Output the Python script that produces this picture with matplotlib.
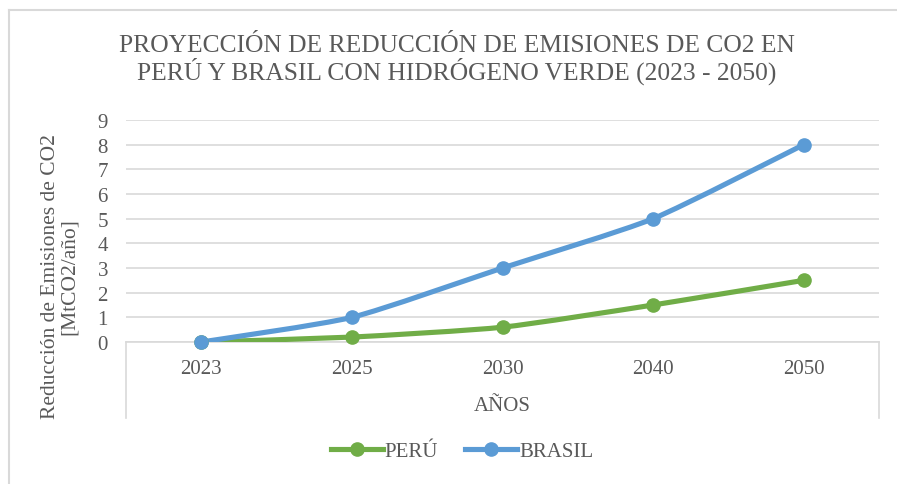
import numpy as np
import matplotlib.pyplot as plt
from matplotlib.path import Path
from matplotlib.patches import PathPatch
from matplotlib.lines import Line2D

years = ['2023', '2025', '2030', '2040', '2050']
peru = [0, 0.2, 0.6, 1.5, 2.5]
brasil = [0, 1, 3, 5, 8]

green = '#70AD47'
blue = '#5B9BD5'
txt = '#595959'
grid = '#D9D9D9'

plt.rcParams['font.family'] = ['Liberation Serif', 'DejaVu Serif']

fig = plt.figure(figsize=(8.97, 4.85), dpi=100)
ax = fig.add_axes([126 / 897, 1 - 343 / 485, (879 - 126) / 897, (343 - 121) / 485])


def smooth_path(xs, ys, k=10):
    # smoothed line like excel: cubic bezier segments through each point
    pts = np.column_stack([xs, ys]).astype(float)
    n = len(pts)
    verts = [pts[0]]
    codes = [Path.MOVETO]
    for i in range(n - 1):
        p0 = pts[i - 1] if i > 0 else pts[i]
        p1 = pts[i]
        p2 = pts[i + 1]
        p3 = pts[i + 2] if i + 2 < n else pts[i + 1]
        c1 = p1 + (p2 - p0) / k
        c2 = p2 - (p3 - p1) / k
        verts += [c1, c2, p2]
        codes += [Path.CURVE4] * 3
    return Path(verts, codes)


x = np.arange(len(years))
for vals, col in [(peru, green), (brasil, blue)]:
    ax.add_patch(PathPatch(smooth_path(x, vals), fill=False, edgecolor=col,
                           lw=3.7, capstyle='round', joinstyle='round', zorder=3))
    ax.plot(x, vals, 'o', color=col, ms=9.5, zorder=4, clip_on=False)

ax.set_xlim(-0.5, len(years) - 0.5)
ax.set_ylim(0, 9)
ax.set_yticks(range(10))
ax.set_xticks(x)
ax.set_xticklabels(years)
ax.tick_params(length=0, labelsize=15, labelcolor=txt)
ax.tick_params(axis='y', pad=13)
ax.tick_params(axis='x', pad=12)
ax.grid(axis='y', color=grid, lw=1.2)
ax.set_axisbelow(True)
for s in ['top', 'right', 'left']:
    ax.spines[s].set_visible(False)
ax.spines['bottom'].set_color(grid)
ax.spines['bottom'].set_linewidth(1.2)

# vertical lines at both ends of the category axis
drop = (419 - 343) / (343 - 121)
for xa in [0, 1]:
    ax.add_line(Line2D([xa, xa], [0, -drop], transform=ax.transAxes,
                       color=grid, lw=1.2, clip_on=False))

fig.text(457 / 897, 1 - 60 / 485,
         'PROYECCIÓN DE REDUCCIÓN DE EMISIONES DE CO2 EN\nPERÚ Y BRASIL CON HIDRÓGENO VERDE (2023 - 2050)',
         ha='center', va='center', fontsize=18.4, color=txt, linespacing=1.02)

fig.text(60 / 897, 1 - 277 / 485, 'Reducción de Emisiones de CO2\n[MtCO2/año]',
         rotation=90, ha='center', va='center', fontsize=15.5, color=txt,
         multialignment='center', linespacing=0.95)

fig.text(502 / 897, 1 - 407 / 485, 'AÑOS', ha='center', va='center',
         fontsize=15, color=txt)

handles = [Line2D([], [], color=green, lw=3.7, marker='o', ms=9.5),
           Line2D([], [], color=blue, lw=3.7, marker='o', ms=9.5)]
fig.legend(handles, ['PERÚ', 'BRASIL'], loc='center',
           bbox_to_anchor=(462 / 897, 1 - 452 / 485), ncol=2, frameon=False,
           fontsize=15, labelcolor=txt, handlelength=2.5, handletextpad=0.08,
           columnspacing=1.3)

# chart border (only left and top visible in the crop)
fig.add_artist(Line2D([8.5 / 897, 8.5 / 897], [0, 1 - 11 / 485], transform=fig.transFigure,
                      color=grid, lw=1.5))
fig.add_artist(Line2D([8.5 / 897, 1], [1 - 11 / 485, 1 - 11 / 485], transform=fig.transFigure,
                      color=grid, lw=1.5))

fig.savefig('out.png', dpi=100)
